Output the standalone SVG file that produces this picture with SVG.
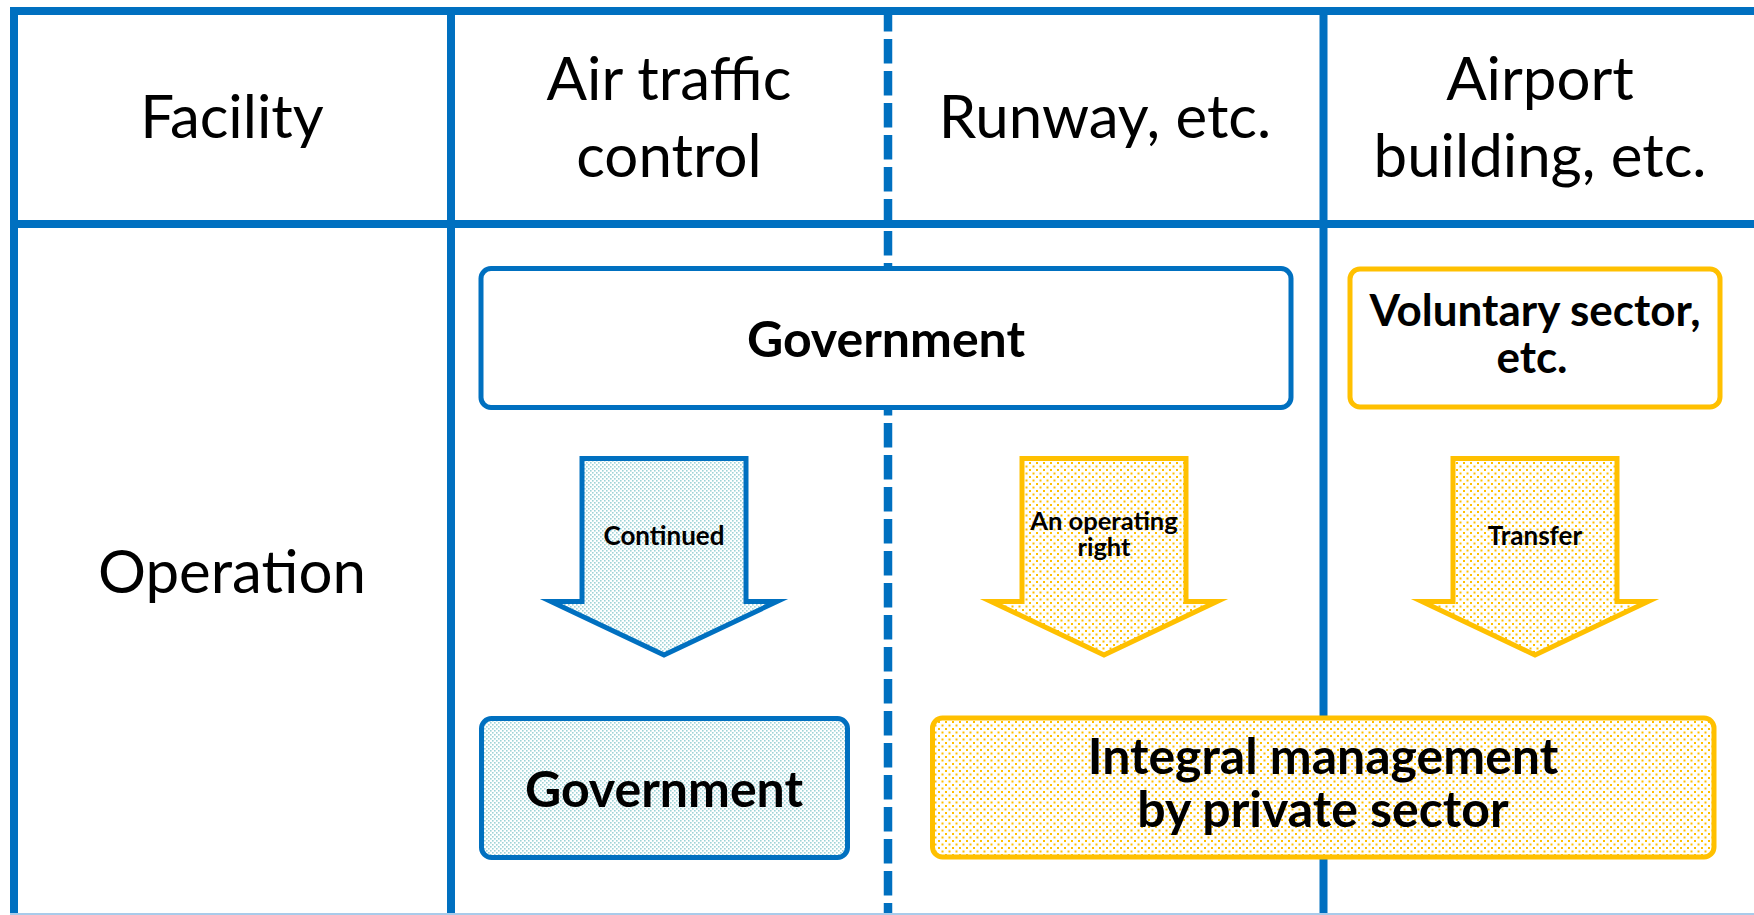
<svg xmlns="http://www.w3.org/2000/svg" width="1754" height="915" viewBox="0 0 1754 915">
<style>
.grid{stroke:#0070C0;stroke-width:8;fill:none}
.dash{stroke:#0070C0;stroke-width:8.5;fill:none;stroke-dasharray:24.5 7.5}
.hdr{font-family:Lato,"Liberation Sans",sans-serif;font-size:60px;fill:#000;text-anchor:middle}
.bold{font-family:Lato,"Liberation Sans",sans-serif;font-weight:bold;fill:#000;text-anchor:middle}
.bbox{stroke:#0070C0;stroke-width:5}
.ybox{stroke:#FFC000;stroke-width:5}
.arr{stroke-width:5;stroke-miterlimit:10;stroke-linejoin:miter}
</style>
<defs>
<pattern id="pb" width="4" height="4" patternUnits="userSpaceOnUse">
<rect width="4" height="4" fill="#ffffff"/>
<rect x="0" y="0" width="1.6" height="1.6" fill="#9fd3d6"/>
<rect x="2" y="2" width="1.6" height="1.6" fill="#9fd3d6"/>
</pattern>
<pattern id="py" width="7" height="7" patternUnits="userSpaceOnUse">
<rect width="7" height="7" fill="#ffffff"/>
<rect x="0" y="0" width="2" height="2" fill="#FFC000"/>
<rect x="3.5" y="3.5" width="2" height="2" fill="#FFC000"/>
</pattern>
</defs>
<rect width="1754" height="915" fill="#ffffff"/>
<g id="table">
<line class="grid" x1="10" y1="11" x2="1754" y2="11"/>
<line class="grid" x1="10" y1="224" x2="1754" y2="224"/>
<line class="grid" x1="14" y1="7" x2="14" y2="915"/>
<line class="grid" x1="451" y1="7" x2="451" y2="915"/>
<line class="grid" x1="1323.5" y1="7" x2="1323.5" y2="915"/>
<line class="dash" x1="888" y1="7" x2="888" y2="915"/>
<line x1="10" y1="914" x2="1754" y2="914" stroke="#a9cbea" stroke-width="2"/>
</g>
<g id="headers">
<text class="hdr" x="232" y="138">Facility</text>
<text class="hdr" x="669" y="100">Air traffic</text>
<text class="hdr" x="669" y="177">control</text>
<text class="hdr" x="1105" y="138">Runway, etc.</text>
<text class="hdr" x="1540" y="100">Airport</text>
<text class="hdr" x="1540" y="177">building, etc.</text>
<text class="hdr" x="232" y="593" font-size="59">Operation</text>
</g>
<g id="connectors">
<g id="arrow-continued">
<path class="arr" d="M582,458.5 H746 V601.5 H777 L664,655 L551,601.5 H582 Z" fill="url(#pb)" stroke="#0070C0"/>
<text class="bold" x="664" y="545" font-size="26">Continued</text>
</g>
<g id="arrow-operating">
<path class="arr" d="M1022,458.5 H1186 V601.5 H1217 L1104,655 L991,601.5 H1022 Z" fill="url(#py)" stroke="#FFC000"/>
<text class="bold" x="1104" y="530" font-size="25.5">An operating</text>
<text class="bold" x="1104" y="556" font-size="25.5">right</text>
</g>
<g id="arrow-transfer">
<path class="arr" d="M1453,458.5 H1617 V601.5 H1648 L1535,655 L1422,601.5 H1453 Z" fill="url(#py)" stroke="#FFC000"/>
<text class="bold" x="1535" y="545" font-size="26">Transfer</text>
</g>
</g>
<g id="gov-top">
<rect class="bbox" x="481" y="268.5" width="810" height="139" rx="10" fill="#ffffff"/>
<text class="bold" x="886" y="357" font-size="50">Government</text>
</g>
<g id="voluntary">
<rect class="ybox" x="1350" y="269" width="370" height="138" rx="10" fill="#ffffff"/>
<text class="bold" x="1535" y="326" font-size="44">Voluntary sector,</text>
<text class="bold" x="1532" y="373" font-size="44">etc.</text>
</g>
<g id="gov-bottom">
<rect x="481.5" y="718.5" width="366" height="139" rx="10" fill="#ffffff"/>
<rect class="bbox" x="481.5" y="718.5" width="366" height="139" rx="10" fill="url(#pb)"/>
<text class="bold" x="664" y="807" font-size="50">Government</text>
</g>
<g id="integral">
<rect x="932.5" y="718" width="781.5" height="139" rx="10" fill="#ffffff"/>
<rect class="ybox" x="932.5" y="718" width="781.5" height="139" rx="10" fill="url(#py)"/>
<text class="bold" x="1323" y="774" font-size="50">Integral management</text>
<text class="bold" x="1323" y="827" font-size="50">by private sector</text>
</g>
</svg>
